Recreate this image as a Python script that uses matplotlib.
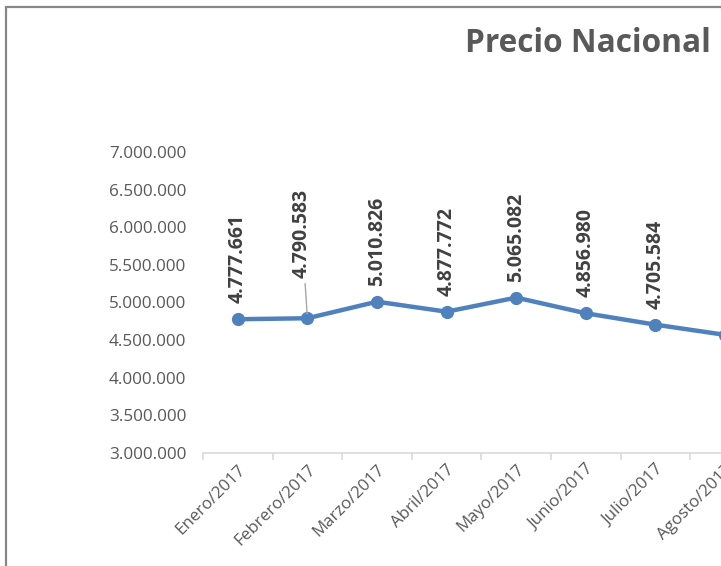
import matplotlib
matplotlib.use("Agg")
import matplotlib.pyplot as plt
from matplotlib.patches import Rectangle
from matplotlib.ticker import FuncFormatter, FixedLocator

months = ["Enero/2017", "Febrero/2017", "Marzo/2017", "Abril/2017", "Mayo/2017",
          "Junio/2017", "Julio/2017", "Agosto/2017"]
prices = [4777661, 4790583, 5010826, 4877772, 5065082, 4856980, 4705584, 4570000]
labels = ["4.777.661", "4.790.583", "5.010.826", "4.877.772", "5.065.082",
          "4.856.980", "4.705.584", ""]
yticks = [3000000, 3500000, 4000000, 4500000, 5000000, 5500000, 6000000, 6500000, 7000000]

W, H = 721, 566
fig = plt.figure(figsize=(W / 100, H / 100), dpi=100)
FONT = "Open Sans"

# chart border (cropped)
fig.patches.append(Rectangle((5.5 / W, -0.1), 2.0, 1 - 6.5 / H + 0.1, transform=fig.transFigure,
                             fill=False, edgecolor="#878787", linewidth=1.6))

ax = fig.add_axes([203 / W, (H - 453) / H, 8 * 69.6 / W, 301 / H])
x = list(range(len(months)))
ax.plot(x, prices, color="#4f81bd", linewidth=3.2, marker="o", markersize=8.5,
        solid_capstyle="round", clip_on=False, zorder=3)
ax.set_xlim(-0.5, len(months) - 0.5)
ax.set_ylim(3000000, 7000000)

ax.set_yticks(yticks)
ax.yaxis.set_major_formatter(FuncFormatter(lambda v, p: f"{int(v):,}".replace(",", ".")))
ax.tick_params(axis="y", length=0, pad=12, labelsize=12.3, labelcolor="#595959")
for t in ax.get_yticklabels():
    t.set_fontfamily(FONT)

ax.xaxis.set_major_locator(FixedLocator([i - 0.5 for i in range(len(months) + 1)]))
ax.xaxis.set_major_formatter(FuncFormatter(lambda v, p: ""))
ax.tick_params(axis="x", which="major", length=5, color="#d9d9d9", width=1.2)
ax.set_xticks(x, minor=True)
ax.set_xticklabels(months, minor=True, rotation=45, ha="right", va="top",
                   rotation_mode="anchor", fontsize=12.2, color="#595959", fontfamily=FONT)
ax.tick_params(axis="x", which="minor", length=0, pad=6)

for s in ["top", "right", "left"]:
    ax.spines[s].set_visible(False)
ax.spines["bottom"].set_color("#d9d9d9")
ax.spines["bottom"].set_linewidth(1.2)

for i, (v, lab) in enumerate(zip(prices, labels)):
    if not lab:
        continue
    if i == 1:
        ax.annotate(lab, xy=(i, v), xytext=(-4, 29), textcoords="offset points",
                    rotation=90, ha="center", va="bottom", fontsize=14, fontweight="bold",
                    color="#404040", fontfamily=FONT,
                    arrowprops=dict(arrowstyle="-", color="#a6a6a6", lw=1, shrinkA=2, shrinkB=3))
    else:
        ax.annotate(lab, xy=(i, v), xytext=(0, 11.5), textcoords="offset points",
                    rotation=90, ha="center", va="bottom", fontsize=14, fontweight="bold",
                    color="#404040", fontfamily=FONT)

fig.text(465 / W, 1 - 43 / H, "Precio Nacional", ha="left", va="center", fontsize=22.8,
         fontweight="bold", color="#595959", fontfamily=FONT)

fig.savefig("out.png", dpi=100)
